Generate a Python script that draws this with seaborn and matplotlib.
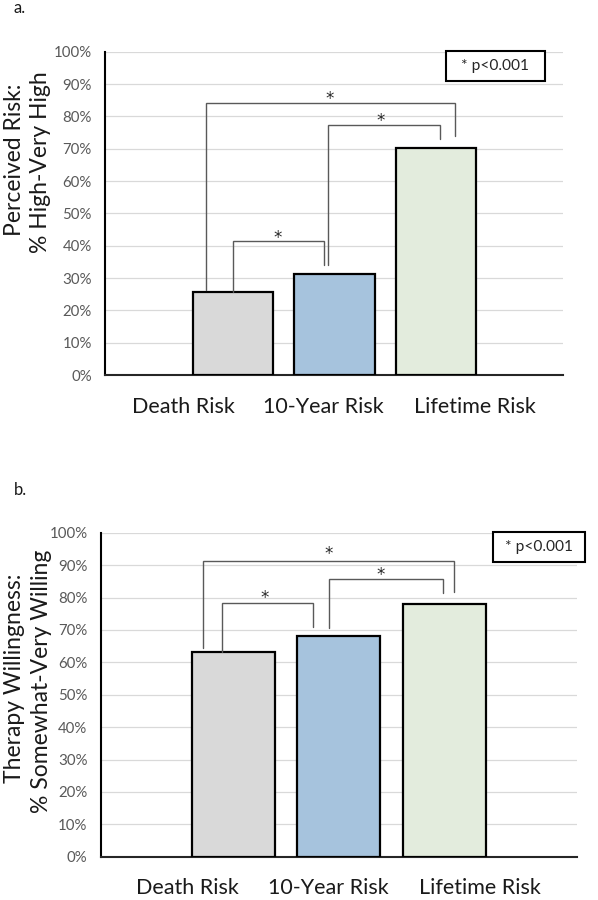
import matplotlib
matplotlib.use("Agg")
import matplotlib.pyplot as plt
import seaborn as sns
import pandas as pd
from matplotlib.ticker import PercentFormatter

sns.set_theme(style="white")
plt.rcParams['font.family'] = ['Lato', 'DejaVu Sans']

# ---- data ----
categories = ["Death Risk", "10-Year Risk", "Lifetime Risk"]
risk_values = [25.7, 31.3, 70.3]          # panel a: % High-Very High
willing_values = [63.2, 68.1, 77.9]       # panel b: % Somewhat-Very Willing
bar_colors = ["#d9d9d9", "#9dc3e6", "#e2efda"]
yticks = [0, 10, 20, 30, 40, 50, 60, 70, 80, 90, 100]
legend_text = "* p<0.001"

W, H = 598, 900
fig = plt.figure(figsize=(W / 100, H / 100), dpi=100)


def fx(px):
    return px / W


def fy(py):
    return 1 - py / H


def add_axes(left, right, top, bottom):
    return fig.add_axes([fx(left), fy(bottom), fx(right - left), (bottom - top) / H])


def draw_panel(ax, values, xlim, brackets, stars):
    df = pd.DataFrame({"cat": categories, "val": values})
    sns.barplot(data=df, x="cat", y="val", hue="cat", palette=bar_colors, order=categories,
                width=0.79, edgecolor="black", linewidth=1.6, legend=False, ax=ax, zorder=3)
    ax.set_xlim(*xlim)
    ax.set_ylim(0, 100)
    ax.set_yticks(yticks)
    ax.yaxis.set_major_formatter(PercentFormatter(decimals=0))
    ax.tick_params(axis="y", labelsize=10.8, colors="#595959", length=0, pad=9.5)
    ax.tick_params(axis="x", length=0, labelbottom=False)
    ax.set_xlabel("")
    ax.set_ylabel("")
    ax.grid(axis="y", color="#d9d9d9", linewidth=0.9, zorder=0)
    ax.set_axisbelow(True)
    for s in ["top", "right"]:
        ax.spines[s].set_visible(False)
    ax.spines["left"].set_color("black")
    ax.spines["left"].set_linewidth(1.5)
    ax.spines["bottom"].set_color("#262626")
    ax.spines["bottom"].set_linewidth(1.5)
    for (x1, y1, x2, y2, ytop) in brackets:
        ax.plot([x1, x1, x2, x2], [y1, ytop, ytop, y2], color="#595959", lw=1.0,
                solid_joinstyle="miter", zorder=4, clip_on=False)
    for (sx, sy) in stars:
        ax.text(sx, sy, "*", ha="center", va="center", fontsize=12, color="#262626",
                family=["DejaVu Sans"])


# ---- panel a ----
axa = add_axes(105, 562.7, 51.7, 375)
draw_panel(
    axa, risk_values, (-1.261, 3.248),
    brackets=[
        (0.0, risk_values[0], 0.895, 33.9, 41.3),
        (0.94, 33.9, 2.04, 72.9, 77.3),
        (-0.27, 26.3, 2.19, 73.9, 84.0),
    ],
    stars=[(0.44, 42.5), (1.45, 78.6), (0.95, 85.5)],
)

# ---- panel b ----
axb = add_axes(100.7, 576.7, 532.7, 856.7)
draw_panel(
    axb, willing_values, (-1.257, 3.255),
    brackets=[
        (-0.105, 63.3, 0.76, 71.0, 78.3),
        (0.91, 70.5, 1.985, 81.3, 85.7),
        (-0.285, 64.3, 2.09, 81.6, 91.3),
    ],
    stars=[(0.30, 79.8), (1.40, 87.0), (0.90, 93.4)],
)

# category labels (placed like the original, slightly left of bar centres)
label_centers_a = [183, 323, 475]
label_centers_b = [187.5, 328.5, 480.3]
for cat, xc in zip(categories, label_centers_a):
    fig.text(fx(xc), fy(406.7), cat, ha="center", va="center", fontsize=15.5, color="#1a1a1a")
for cat, xc in zip(categories, label_centers_b):
    fig.text(fx(xc), fy(888.3), cat, ha="center", va="center", fontsize=15.5, color="#1a1a1a")

# y labels (x given at the text baseline)
ylab_kw = dict(rotation=90, rotation_mode="anchor", ha="center", va="baseline",
               fontsize=16.5, color="#1a1a1a")
fig.text(fx(21), fy(160), "Perceived Risk:", **ylab_kw)
fig.text(fx(47.5), fy(162), "% High-Very High", **ylab_kw)
fig.text(fx(21), fy(678), "Therapy Willingness:", **ylab_kw)
fig.text(fx(48), fy(681), "% Somewhat-Very Willing", **ylab_kw)

# panel letters
fig.text(fx(14), fy(8), "a.", ha="left", va="center", fontsize=12, color="#1a1a1a")
fig.text(fx(14), fy(490), "b.", ha="left", va="center", fontsize=12, color="#1a1a1a")

# significance legend boxes
for (cx, cy, bw, bh) in [(495.5, 65.9, 99.6, 30.3), (538.8, 547.0, 92.3, 30.6)]:
    fig.patches.append(plt.Rectangle((fx(cx - bw / 2), fy(cy + bh / 2)), fx(bw), bh / H,
                                     transform=fig.transFigure, facecolor="white",
                                     edgecolor="black", linewidth=1.5, zorder=5))
    fig.text(fx(cx), fy(cy), legend_text, ha="center", va="center", fontsize=11.2,
             color="#262626", zorder=6)

fig.savefig("out.png", dpi=100, facecolor="white")
